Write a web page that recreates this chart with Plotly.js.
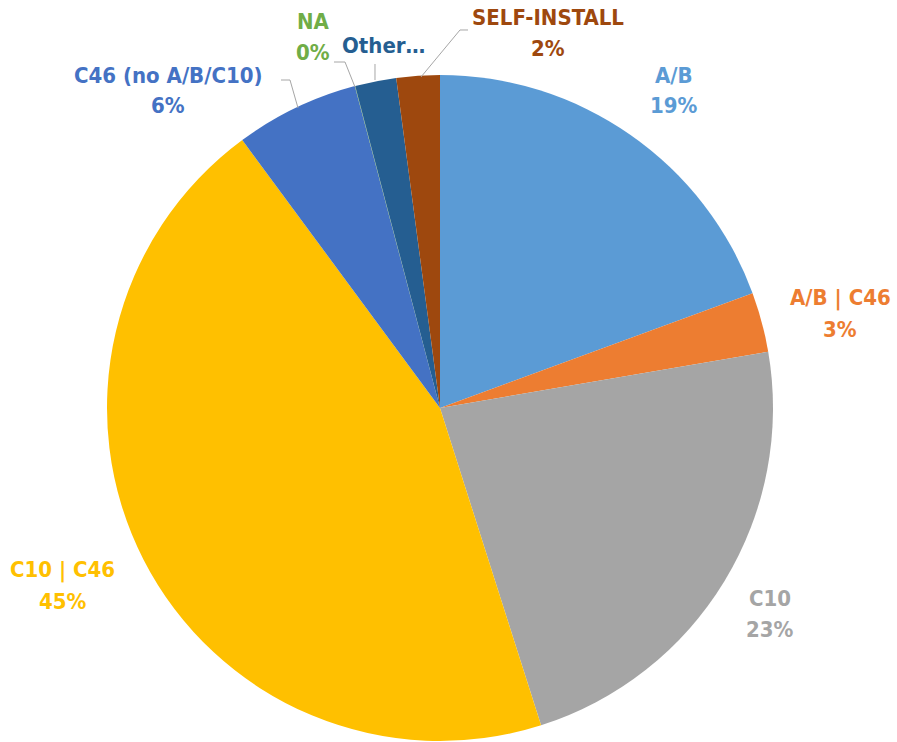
<!DOCTYPE html>
<html>
<head>
<meta charset="utf-8">
<script src="https://cdn.plot.ly/plotly-3.0.1.min.js"></script>
<style>html,body{margin:0;padding:0;background:#fff;}#chart{width:897px;height:742px;}</style>
</head>
<body>
<div id="chart"></div>
<script>
const categories = ["A/B", "A/B | C46", "C10", "C10 | C46", "C46 (no A/B/C10)", "NA", "Other…", "SELF-INSTALL"];
const values = [19.4, 2.9, 22.8, 44.8, 6.0, 0.02, 2.0, 2.1];
const colors = ["#5B9BD5", "#ED7D31", "#A5A5A5", "#FFC000", "#4472C4", "#70AD47", "#255E91", "#9E480E"];
const showPercent = [true, true, true, true, true, true, false, true];

const W = 897, H = 742;
const cx = 440, cy = 408, R = 333;
const total = values.reduce((a, b) => a + b, 0);
const pct = values.map(v => Math.round(v / total * 100) + "%");

// label positions (pixel centers of name line) – layout only
const labelPos = [
  [674, 75], [840, 298], [770, 598], [63, 570], [168, 75], [313, 22], [383, 45], [548, 18]
];
const lineGap = 31;
const font = {family: "'DejaVu Sans Condensed', 'Liberation Sans Narrow', Arial, sans-serif", size: 22};

const annotations = [];
categories.forEach((c, i) => {
  const [x, y] = labelPos[i];
  annotations.push({xref: "paper", yref: "paper", x: x / W, y: 1 - y / H, text: "<b>" + c + "</b>",
    showarrow: false, xanchor: "center", yanchor: "middle", font: Object.assign({}, font, {color: colors[i]})});
  if (showPercent[i]) {
    annotations.push({xref: "paper", yref: "paper", x: x / W, y: 1 - (y + lineGap) / H, text: "<b>" + pct[i] + "</b>",
      showarrow: false, xanchor: "center", yanchor: "middle", font: Object.assign({}, font, {color: colors[i]})});
  }
});

const leaderPaths = [
  [[281, 80], [290, 80], [298, 108]],
  [[334, 62], [345, 62], [355, 87]],
  [[375, 64], [375, 80]],
  [[468, 30], [460, 30], [421, 77]]
];
const shapes = leaderPaths.map(pts => ({
  type: "path", xref: "paper", yref: "paper",
  path: pts.map((p, k) => (k ? "L" : "M") + (p[0] / W).toFixed(5) + "," + (1 - p[1] / H).toFixed(5)).join(" "),
  line: {color: "#A6A6A6", width: 1}
}));

const trace = {
  type: "pie",
  labels: categories,
  values: values,
  sort: false,
  direction: "clockwise",
  rotation: 0,
  textinfo: "none",
  hoverinfo: "label+percent",
  marker: {colors: colors, line: {width: 0}},
  domain: {x: [(cx - R) / W, (cx + R) / W], y: [(H - cy - R) / H, (H - cy + R) / H]},
  showlegend: false
};

Plotly.newPlot("chart", [trace], {
  width: W, height: H,
  margin: {l: 0, r: 0, t: 0, b: 0},
  paper_bgcolor: "#fff",
  showlegend: false,
  annotations: annotations,
  shapes: shapes
}, {displayModeBar: false, staticPlot: true});
</script>
</body>
</html>
